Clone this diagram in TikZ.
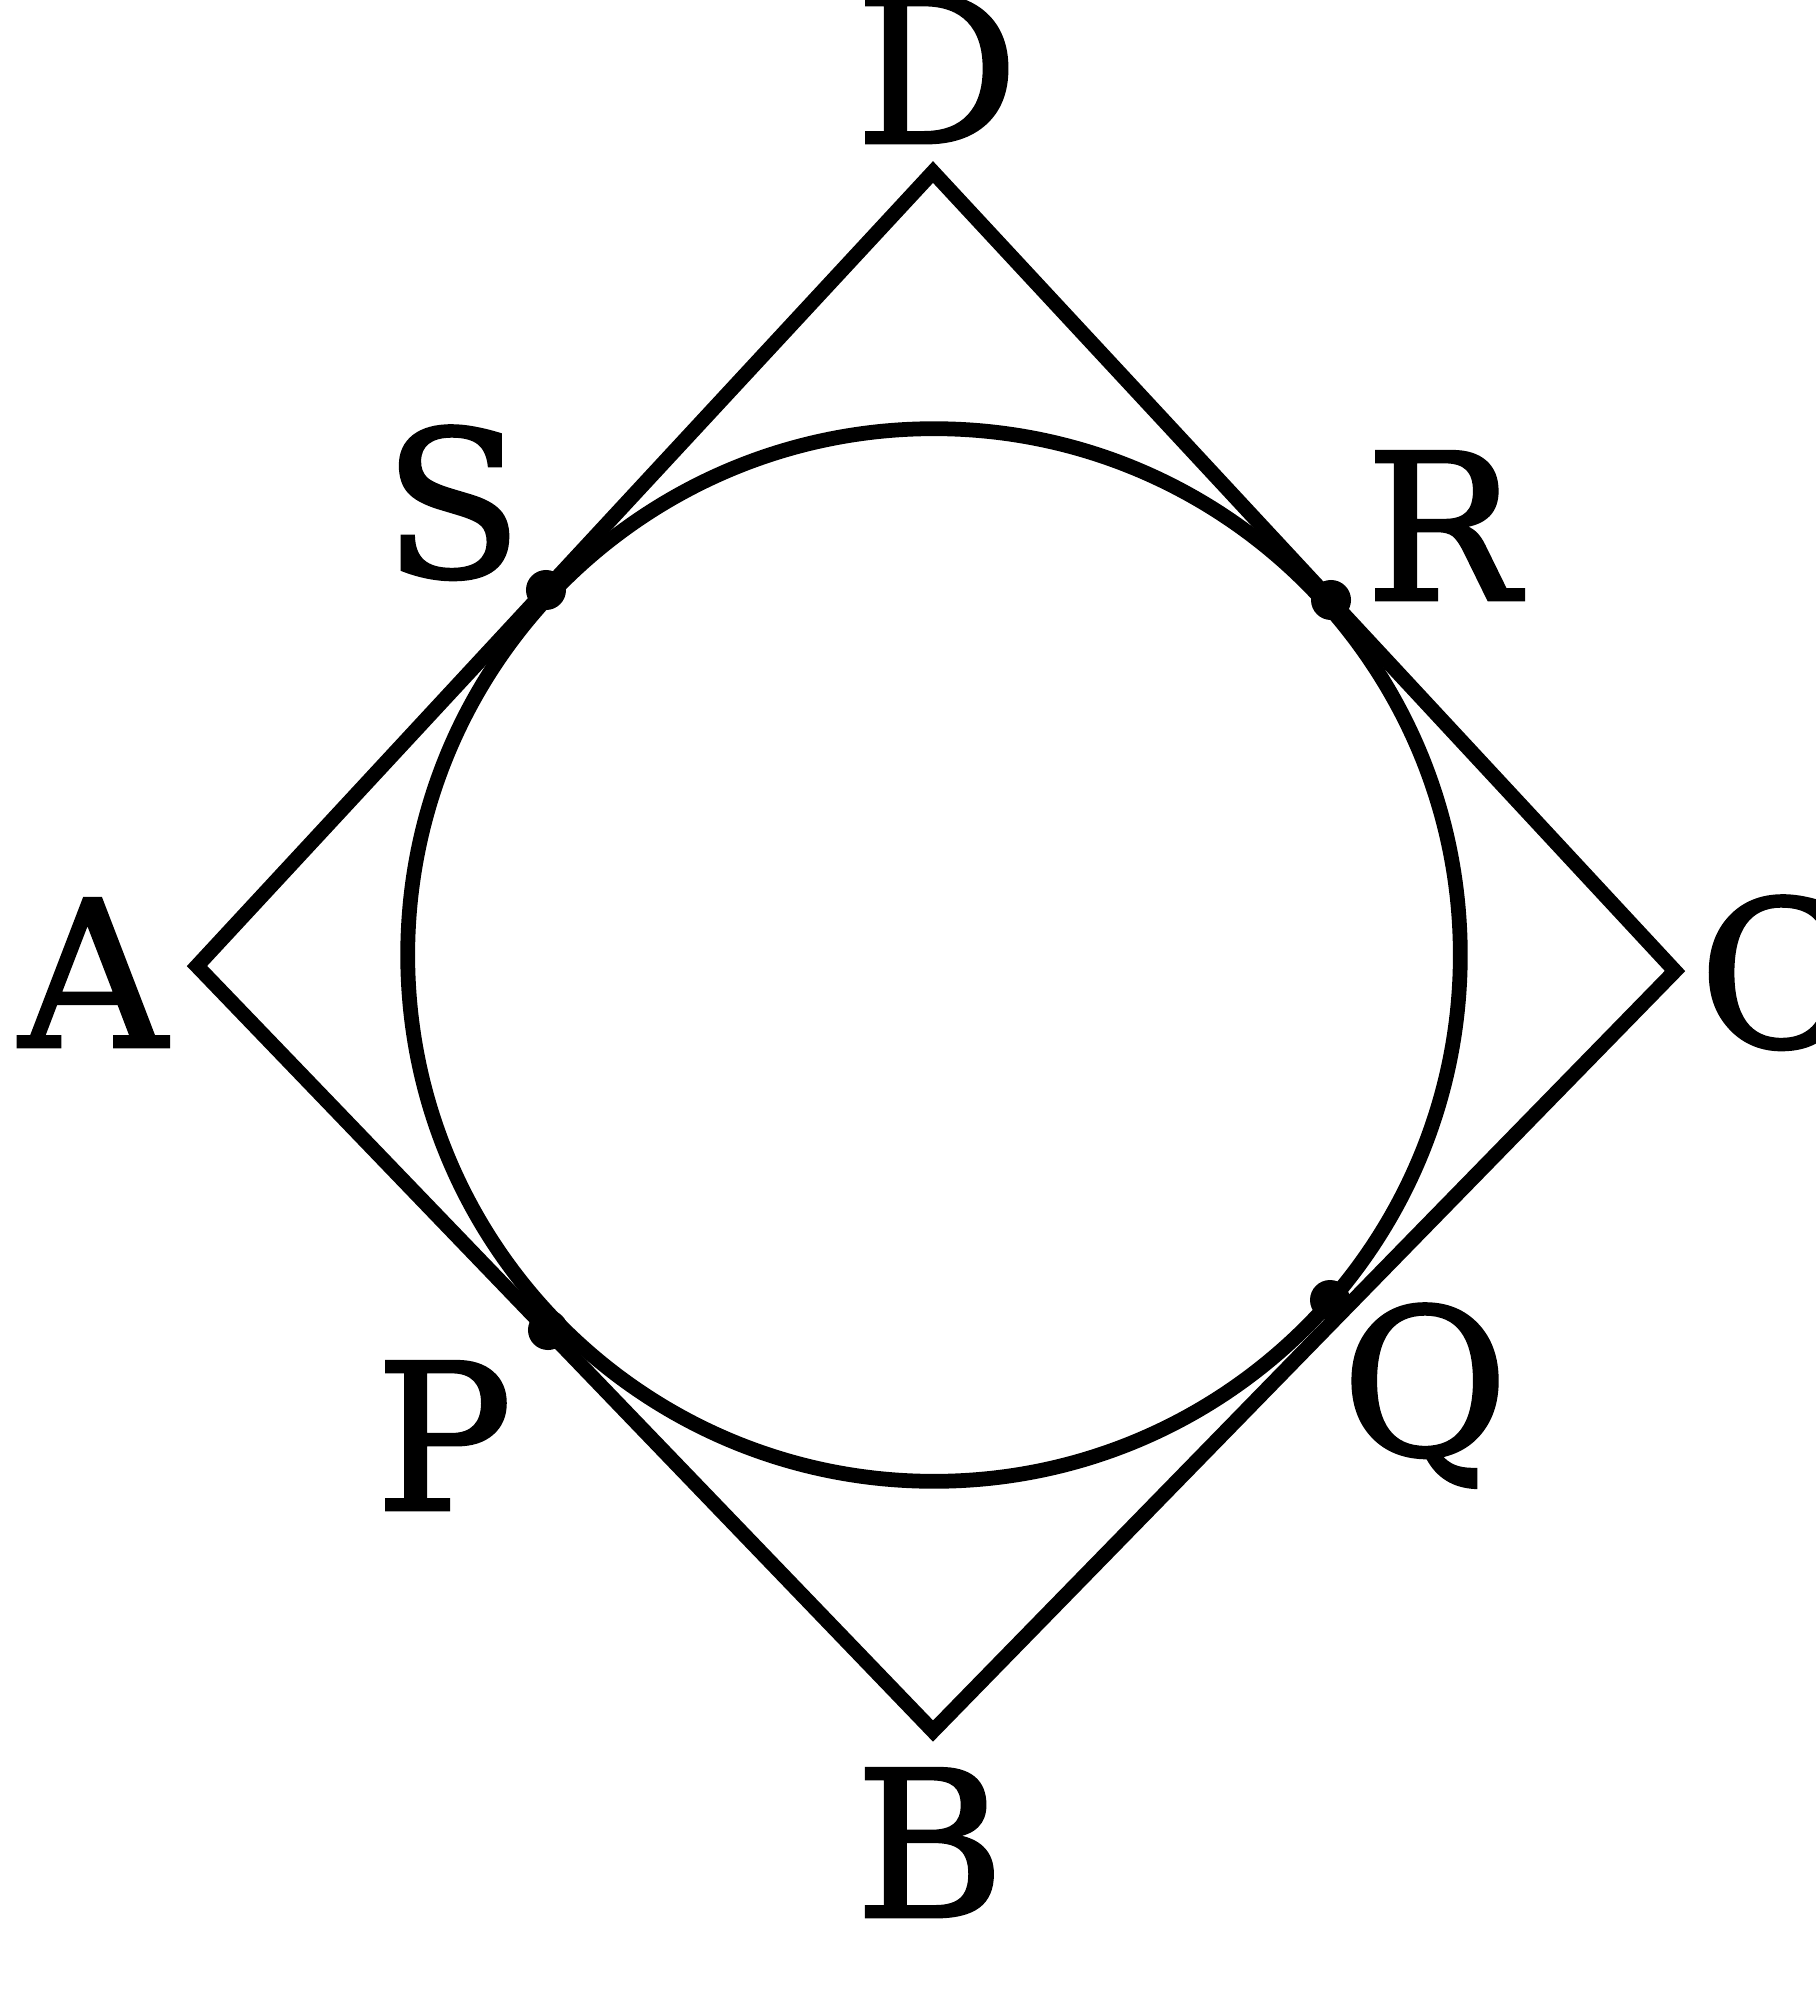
\documentclass[tikz,border=0pt]{standalone}
\usepackage{fontspec}
\setmainfont{DejaVu Serif}
\newfontfamily\lblfont[FakeBold=1.4]{DejaVu Serif}
\begin{document}
\begin{tikzpicture}[x=0.01cm,y=-0.01cm,
  edge/.style={draw=black,line width=4.2pt,line join=miter},
  ptdot/.style={fill=black},
  lbl/.style={inner sep=0pt,font=\lblfont\fontsize{58}{60}\selectfont}]
\useasboundingbox (0,0) rectangle (1816,2000);
\clip (0,0) rectangle (1816,2000);
% vertices
\coordinate (A) at (197,966);
\coordinate (B) at (933,1731);
\coordinate (C) at (1675,971);
\coordinate (D) at (933,172);
\coordinate (O) at (934,955);
% tangent points
\coordinate (S) at (546,590);
\coordinate (R) at (1331,600);
\coordinate (P) at (548,1330);
\coordinate (Q) at (1330,1300);
% kite
\draw[edge] (A) -- (B) -- (C) -- (D) -- cycle;
% circle
\draw[edge] (O) circle [radius=5.26cm];
% dots
\foreach \p in {S,R,P,Q} \fill[ptdot] (\p) circle [radius=0.2cm];
% labels
\node[lbl,anchor=base] (lD) at (937,143) {D};
\node[lbl,anchor=base] (lA) at (93,1047) {A};
\node[lbl,anchor=base west] (lC) at (1698,1047) {C};
\node[lbl,anchor=base] (lS) at (453,577) {S};
\node[lbl,anchor=base] (lR) at (1442,600) {R};
\node[lbl,anchor=base] (lP) at (444,1510) {P};
\node[lbl,anchor=base] (lQ) at (1425,1455) {Q};
\node[lbl,anchor=base] (lB) at (930,1917) {B};
\end{tikzpicture}
\end{document}
